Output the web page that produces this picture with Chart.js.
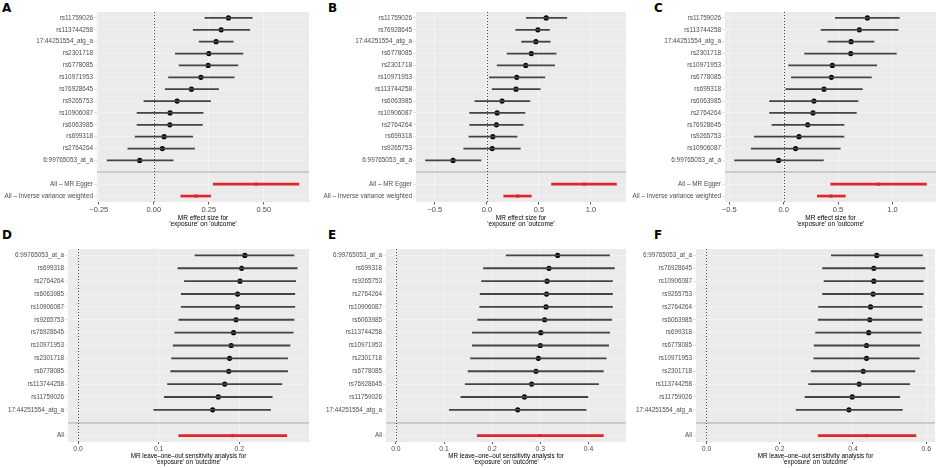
<!DOCTYPE html>
<html>
<head>
<meta charset="utf-8">
<script src="https://cdn.jsdelivr.net/npm/chart.js@4.4.1/dist/chart.umd.min.js"></script>
<style>
  body { margin: 0; background: #fff; width: 940px; height: 468px; position: relative; overflow: hidden; }
  canvas { position: absolute; }
  .tag { position: absolute; font: bold 12px "DejaVu Sans", sans-serif; color: #000; line-height: 1; }
</style>
</head>
<body>
<div class="tag" style="left:2px;top:2px">A</div>
<div class="tag" style="left:328px;top:2px">B</div>
<div class="tag" style="left:654px;top:2px">C</div>
<div class="tag" style="left:2px;top:229px">D</div>
<div class="tag" style="left:328px;top:229px">E</div>
<div class="tag" style="left:654px;top:229px">F</div>

<canvas id="cA" width="315" height="234" style="left:0;top:0"></canvas>
<canvas id="cB" width="315" height="234" style="left:315px;top:0"></canvas>
<canvas id="cC" width="310" height="234" style="left:630px;top:0"></canvas>
<canvas id="cD" width="315" height="233" style="left:0;top:235px"></canvas>
<canvas id="cE" width="315" height="233" style="left:315px;top:235px"></canvas>
<canvas id="cF" width="310" height="233" style="left:630px;top:235px"></canvas>

<script>
// ---------- A : MR methods, outcome 1 ----------
const snpA = ['rs11759026', 'rs113744258', '17:44251554_atg_a', 'rs2301718', 'rs6778085', 'rs10971953', 'rs76928645', 'rs9265753', 'rs10906087', 'rs6063985', 'rs699318', 'rs2764264', '6:99765053_at_a'];
const estA = [0.339, 0.306, 0.283, 0.250, 0.247, 0.214, 0.171, 0.106, 0.074, 0.073, 0.047, 0.039, -0.064];
const loA  = [0.232, 0.179, 0.206, 0.098, 0.115, 0.067, 0.052, -0.045, -0.076, -0.076, -0.085, -0.118, -0.212];
const hiA  = [0.447, 0.436, 0.361, 0.405, 0.382, 0.365, 0.294, 0.258, 0.224, 0.221, 0.177, 0.185, 0.088];
const sumEstA = [0.464, 0.191];
const sumLoA  = [0.270, 0.123];
const sumHiA  = [0.659, 0.258];
const ticksA = [-0.25, 0, 0.25, 0.5];

// ---------- B ----------
const snpB = ['rs11759026', 'rs76928645', '17:44251554_atg_a', 'rs6778085', 'rs2301718', 'rs10971953', 'rs113744258', 'rs6063985', 'rs10906087', 'rs2764264', 'rs699318', 'rs9265753', '6:99765053_at_a'];
const estB = [0.570, 0.490, 0.471, 0.427, 0.373, 0.287, 0.280, 0.146, 0.099, 0.092, 0.057, 0.051, -0.325];
const loB  = [0.379, 0.277, 0.334, 0.194, 0.099, 0.025, 0.051, -0.115, -0.166, -0.166, -0.172, -0.223, -0.589];
const hiB  = [0.768, 0.602, 0.608, 0.666, 0.650, 0.557, 0.513, 0.414, 0.366, 0.350, 0.290, 0.322, -0.057];
const sumEstB = [0.933, 0.296];
const sumLoB  = [0.621, 0.162];
const sumHiB  = [1.245, 0.427];
const ticksB = [-0.5, 0, 0.5, 1.0];

// ---------- C ----------
const snpC = ['rs11759026', 'rs113744258', '17:44251554_atg_a', 'rs2301718', 'rs10971953', 'rs6778085', 'rs699318', 'rs6063985', 'rs2764264', 'rs76928645', 'rs9265753', 'rs10906087', '6:99765053_at_a'];
const estC = [0.770, 0.696, 0.620, 0.617, 0.448, 0.439, 0.371, 0.279, 0.270, 0.221, 0.141, 0.110, -0.046];
const loC  = [0.475, 0.344, 0.408, 0.193, 0.046, 0.071, 0.021, -0.129, -0.129, -0.107, -0.270, -0.298, -0.451];
const hiC  = [1.064, 1.052, 0.831, 1.037, 0.856, 0.807, 0.724, 0.684, 0.669, 0.555, 0.555, 0.521, 0.365];
const sumEstC = [0.871, 0.436];
const sumLoC  = [0.433, 0.310];
const sumHiC  = [1.313, 0.567];
const ticksC = [-0.5, 0, 0.5, 1.0];

// ---------- D : leave-one-out ----------
const snpD = ['6:99765053_at_a', 'rs699318', 'rs2764264', 'rs6063985', 'rs10906087', 'rs9265753', 'rs76928645', 'rs10971953', 'rs2301718', 'rs6778085', 'rs113744258', 'rs11759026', '17:44251554_atg_a'];
const estD = [0.207, 0.203, 0.201, 0.198, 0.198, 0.196, 0.193, 0.190, 0.188, 0.187, 0.182, 0.174, 0.167];
const loD  = [0.145, 0.124, 0.132, 0.128, 0.128, 0.125, 0.120, 0.118, 0.116, 0.115, 0.111, 0.107, 0.094];
const hiD  = [0.268, 0.272, 0.270, 0.269, 0.269, 0.268, 0.267, 0.263, 0.260, 0.260, 0.253, 0.241, 0.239];
const allD = [0.192, 0.125, 0.259]; // est, lo, hi
const ticksD = [0, 0.1, 0.2];

// ---------- E ----------
const snpE = ['6:99765053_at_a', 'rs699318', 'rs9265753', 'rs2764264', 'rs10906087', 'rs6063985', 'rs113744258', 'rs10971953', 'rs2301718', 'rs6778085', 'rs76928645', 'rs11759026', '17:44251554_atg_a'];
const estE = [0.336, 0.318, 0.314, 0.313, 0.312, 0.309, 0.301, 0.300, 0.296, 0.291, 0.282, 0.267, 0.253];
const loE  = [0.229, 0.182, 0.178, 0.175, 0.174, 0.170, 0.159, 0.159, 0.155, 0.150, 0.144, 0.135, 0.111];
const hiE  = [0.444, 0.454, 0.450, 0.450, 0.450, 0.448, 0.444, 0.442, 0.437, 0.431, 0.421, 0.399, 0.395];
const allE = [0.300, 0.169, 0.431];
const ticksE = [0, 0.1, 0.2, 0.3, 0.4];

// ---------- F ----------
const snpF = ['6:99765053_at_a', 'rs76928645', 'rs10906087', 'rs9265753', 'rs2764264', 'rs6063985', 'rs699318', 'rs6778085', 'rs10971953', 'rs2301718', 'rs113744258', 'rs11759026', '17:44251554_atg_a'];
const estF = [0.465, 0.457, 0.457, 0.455, 0.448, 0.446, 0.443, 0.437, 0.437, 0.428, 0.417, 0.398, 0.389];
const loF  = [0.341, 0.317, 0.321, 0.317, 0.306, 0.305, 0.298, 0.294, 0.293, 0.286, 0.279, 0.269, 0.245];
const hiF  = [0.590, 0.597, 0.592, 0.592, 0.589, 0.589, 0.586, 0.582, 0.581, 0.569, 0.555, 0.528, 0.535];
const allF = [0.437, 0.305, 0.572];
const ticksF = [0, 0.2, 0.4, 0.6];

const methodLabels = ['All – MR Egger', 'All – Inverse variance weighted'];
const titleTop = ['MR effect size for', "'exposure' on 'outcome'"];
const titleLoo = ['MR leave–one–out sensitivity analysis for', "'exposure' on 'outcome'"];

const PANEL_BG = '#ebebeb';
const CI_COL = '#444';
const RED = '#e0262b';
const FONT = '"Liberation Sans", Arial, sans-serif';

// grey panel + dotted line at zero
const forestBg = {
    id: 'forestBg',
    beforeDraw(chart) {
        const a = chart.chartArea, ctx = chart.ctx;
        ctx.save();
        ctx.fillStyle = PANEL_BG;
        ctx.fillRect(a.left, a.top, a.right - a.left, a.bottom - a.top);
        ctx.restore();
    },
    beforeDatasetsDraw(chart) {
        const a = chart.chartArea, ctx = chart.ctx;
        const x0 = Math.round(chart.scales.x.getPixelForValue(0)) + 0.5;
        ctx.save();
        ctx.strokeStyle = '#333';
        ctx.lineWidth = 0.9;
        ctx.setLineDash([1, 2]);
        ctx.beginPath();
        ctx.moveTo(x0, a.top);
        ctx.lineTo(x0, a.bottom);
        ctx.stroke();
        ctx.restore();
    }
};

function forest(id, p) {
    const gap = p.snp.length;
    const labels = [...p.snp, '', ...p.sumLab];
    const pad = arr => arr.map(() => null);

    const snpRanges = [...p.snp.map((_, i) => [p.lo[i], p.hi[i]]), null, ...pad(p.sumLab)];
    const sumRanges = [...pad(p.snp), null, ...p.sumLab.map((_, i) => [p.sumLo[i], p.sumHi[i]])];
    const snpEst = [...p.est, null, ...pad(p.sumLab)];
    const sumEst = [...pad(p.snp), null, ...p.sumEst];

    return new Chart(document.getElementById(id), {
        data: {
            labels: labels,
            datasets: [
                { type: 'bar', data: snpRanges, backgroundColor: CI_COL, barThickness: 1.2, grouped: false },
                { type: 'bar', data: sumRanges, backgroundColor: RED, barThickness: 2, grouped: false },
                { type: 'line', data: snpEst, showLine: false, pointRadius: 2.6, pointBackgroundColor: '#000', pointBorderWidth: 0 },
                { type: 'line', data: sumEst, showLine: false, pointRadius: 2.2, pointStyle: 'rect', pointBackgroundColor: RED, pointBorderWidth: 0 }
            ]
        },
        options: {
            indexAxis: 'y',
            responsive: false,
            animation: false,
            events: [],
            layout: { padding: { top: p.top, right: p.right, left: 0, bottom: p.bottom } },
            plugins: { legend: { display: false }, tooltip: { enabled: false } },
            scales: {
                x: {
                    type: 'linear',
                    min: p.min, max: p.max,
                    afterBuildTicks: s => { s.ticks = p.ticks.map(v => ({ value: v })); },
                    afterFit: s => { s.height = p.xh; },
                    border: { display: false },
                    grid: { color: 'rgba(255,255,255,0.55)', lineWidth: 0.8, tickLength: p.tl, tickColor: '#333', tickWidth: 0.8 },
                    ticks: {
                        font: { family: FONT, size: p.xfs }, color: '#4d4d4d', padding: p.tp, maxRotation: 0,
                        callback: v => (v < 0 ? '−' : '') + Math.abs(v).toFixed(p.dec)
                    },
                    title: {
                        display: true, text: p.title, color: '#000',
                        font: { family: FONT, size: p.tfs, lineHeight: p.tlh + 'px' },
                        padding: { top: 0, bottom: 0 }
                    }
                },
                y: {
                    type: 'category',
                    offset: true,
                    afterFit: s => { s.width = p.yw; },
                    border: { display: false },
                    grid: {
                        offset: false,
                        color: c => c.index === gap ? '#c6c6c6' : 'rgba(255,255,255,0.45)',
                        lineWidth: c => c.index === gap ? 1.8 : 0.8,
                        tickLength: 3,
                        tickColor: c => c.index === gap ? 'rgba(0,0,0,0)' : '#dcdcdc'
                    },
                    ticks: { font: { family: FONT, size: p.yfs }, color: '#4d4d4d', padding: 1, autoSkip: false }
                }
            }
        },
        plugins: [forestBg]
    });
}

const topRow = { sumLab: methodLabels, title: titleTop, top: 12, bottom: 6.8, xh: 25.2, tl: 2.5, tp: 1.2, xfs: 7.5, tfs: 6.5, tlh: 6.3, yfs: 6.4 };
const botRow = { title: titleLoo, top: 14, bottom: 3.1, xh: 22.9, tl: 2, tp: 0.6, xfs: 6.8, tfs: 6.3, tlh: 6, yfs: 6.3 };

forest('cA', { ...topRow, snp: snpA, est: estA, lo: loA, hi: hiA, sumEst: sumEstA, sumLo: sumLoA, sumHi: sumHiA,
    ticks: ticksA, dec: 2, min: -0.258, max: 0.705, yw: 97, right: 6 });
forest('cB', { ...topRow, snp: snpB, est: estB, lo: loB, hi: hiB, sumEst: sumEstB, sumLo: sumLoB, sumHi: sumHiB,
    ticks: ticksB, dec: 1, min: -0.681, max: 1.337, yw: 101, right: 4 });
forest('cC', { ...topRow, snp: snpC, est: estC, lo: loC, hi: hiC, sumEst: sumEstC, sumLo: sumLoC, sumHi: sumHiC,
    ticks: ticksC, dec: 1, min: -0.539, max: 1.401, yw: 95, right: 2 });

forest('cD', { ...botRow, snp: snpD, est: estD, lo: loD, hi: hiD, sumLab: ['All'], sumEst: [allD[0]], sumLo: [allD[1]], sumHi: [allD[2]],
    ticks: ticksD, dec: 1, min: -0.0125, max: 0.2866, yw: 68, right: 6 });
forest('cE', { ...botRow, snp: snpE, est: estE, lo: loE, hi: hiE, sumLab: ['All'], sumEst: [allE[0]], sumLo: [allE[1]], sumHi: [allE[2]],
    ticks: ticksE, dec: 1, min: -0.0205, max: 0.478, yw: 71, right: 4 });
forest('cF', { ...botRow, snp: snpF, est: estF, lo: loF, hi: hiF, sumLab: ['All'], sumEst: [allF[0]], sumLo: [allF[1]], sumHi: [allF[2]],
    ticks: ticksF, dec: 1, min: -0.0285, max: 0.624, yw: 66, right: 5 });
</script>
</body>
</html>
